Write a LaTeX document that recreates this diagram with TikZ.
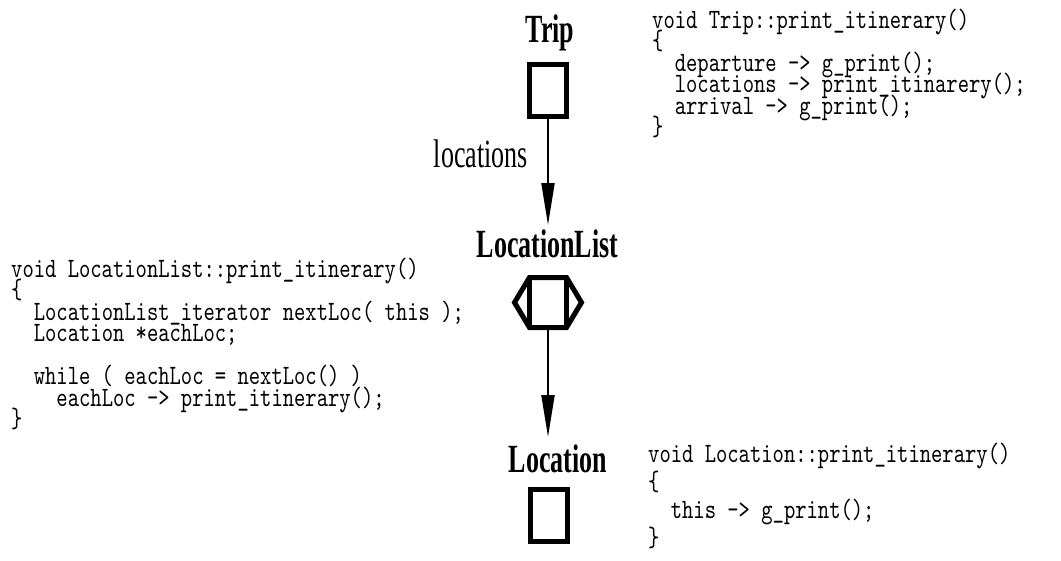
\documentclass[tikz,border=0pt]{standalone}
\usepackage{fontspec}
\usetikzlibrary{arrows.meta}
\newfontfamily\labfont[FakeStretch=0.65]{Liberation Serif}
\newfontfamily\codefont[FakeStretch=0.77]{lmmono10-regular.otf}
\newcommand\codeskip[1]{\fontsize{28}{#1}\codefont\lineskiplimit=-100pt\relax\lineskip=0pt\relax}
\tikzset{
  objbox/.style={draw, line width=5pt, minimum width=37pt, minimum height=52pt, inner sep=0pt},
  thickline/.style={line width=5pt, line join=miter},
  clsname/.style={font=\fontsize{40}{40}\labfont\bfseries, inner sep=0pt, anchor=base},
  rolename/.style={font=\fontsize{40}{40}\labfont, inner sep=0pt, anchor=base east},
  code/.style={font=\codeskip{21.5}, align=left, inner sep=0pt, anchor=base west},
  arr/.style={line width=2pt, -{Triangle[length=42pt,width=13pt]}},
}
\begin{document}
\begin{tikzpicture}[x=1pt,y=-1pt]
\useasboundingbox (0,0) rectangle (1061,560);
% Trip
\node[clsname] (triplab) at (550,42) {Trip};
\node[objbox] (trip) at (548,90) {};
% LocationList
\node[clsname] (lllab) at (547.5,257) {LocationList};
\node[inner sep=0pt, outer sep=0pt, minimum width=37pt, minimum height=50pt] (ll) at (548,302.5) {};
\draw[thickline] (ll.north west) -- (ll.north east) -- ++(15,25) -- (ll.south east)
  -- (ll.south west) -- ++(-15,-25) -- cycle;
\draw[thickline] (ll.north west) -- (ll.south west);
\draw[thickline] (ll.north east) -- (ll.south east);
% Location
\node[clsname] (loclab) at (558,472) {Location};
\node[objbox] (loc) at (549,515) {};
% connectors
\draw[arr, shorten >=4pt] (trip.south) -- (lllab.north -| trip.south);
\node[rolename] (role) at (528,167) {locations};
\draw[arr, shorten >=7pt] (ll.south) -- (loclab.north -| ll.south);
% code (base anchor = baseline of the last line)
\node[code] (tripcode) at (652,135.5) {void Trip::print\_itinerary()\\
\{\\
\hphantom{xx}departure -> g\_print();\\
\hphantom{xx}locations -> print\_itinarery();\\
\hphantom{xx}arrival -> g\_print();\\
\}};
\node[code] (llcode) at (11,427.5) {void LocationList::print\_itinerary()\\
\{\\
\hphantom{xx}LocationList\_iterator nextLoc( this );\\
\hphantom{xx}Location *eachLoc;\\
\mbox{}\\
\hphantom{xx}while ( eachLoc = nextLoc() )\\
\hphantom{xxxx}eachLoc -> print\_itinerary();\\
\}};
\node[code, font=\codeskip{28}] (loccode) at (648,546) {void Location::print\_itinerary()\\
\{\\
\hphantom{xx}this -> g\_print();\\
\}};
\end{tikzpicture}
\end{document}
